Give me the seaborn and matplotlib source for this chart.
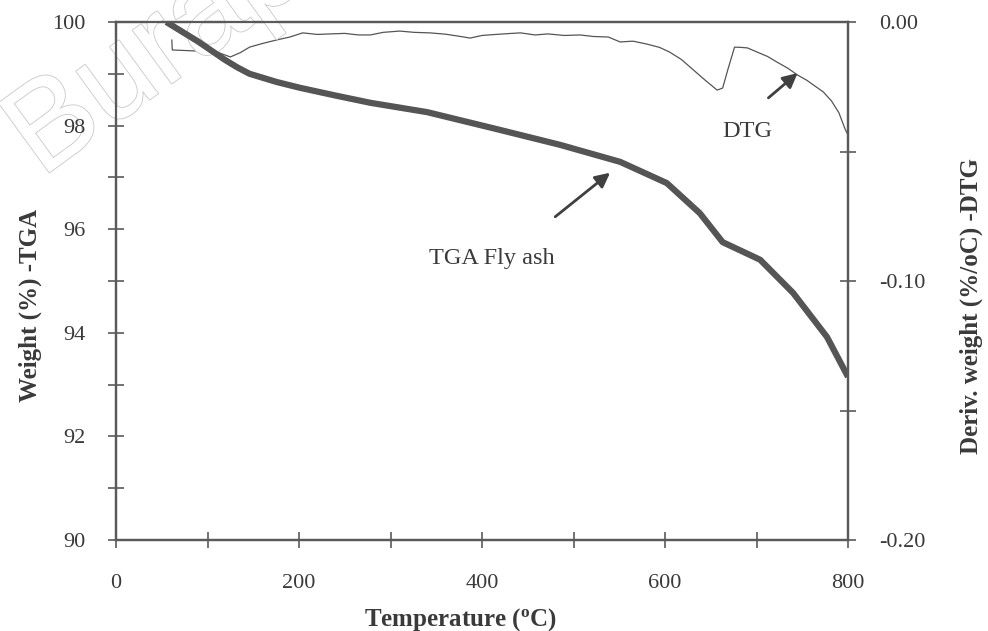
import matplotlib
matplotlib.use("Agg")
import matplotlib.pyplot as plt
import matplotlib.patheffects as pe
import seaborn as sns
import pandas as pd

# ---- data ----
tga_temp = [55, 90, 119, 132, 146, 176, 201, 240, 278, 340, 412, 485, 551, 602,
            638, 663, 704, 740, 777, 800]
tga_weight = [100.0, 99.62, 99.27, 99.13, 99.0, 98.84, 98.73, 98.58, 98.44, 98.26,
              97.95, 97.63, 97.30, 96.89, 96.31, 95.75, 95.41, 94.77, 93.92, 93.15]

dtg_temp = [61, 61.5, 75, 88, 99, 112, 125, 136, 146, 160, 176, 190, 204, 220,
            234, 250, 265, 278, 292, 310, 326, 343, 360, 375, 387, 400, 415,
            428, 442, 458, 472, 490, 507, 522, 538, 551, 565, 580, 594, 605,
            618, 631, 644, 657, 663, 669, 676, 683, 690, 700, 712, 722, 734,
            745, 755, 765, 773, 782, 790, 797, 800]
dtg_value = [-0.0069, -0.0108, -0.0110, -0.0112, -0.0116, -0.0118, -0.0135, -0.0118,
             -0.0097, -0.0083, -0.0069, -0.0058, -0.0042, -0.0048, -0.0046, -0.0044,
             -0.0050, -0.0050, -0.0040, -0.0035, -0.0040, -0.0042, -0.0047, -0.0055,
             -0.0062, -0.0052, -0.0048, -0.0045, -0.0042, -0.0050, -0.0046, -0.0052,
             -0.0050, -0.0056, -0.0058, -0.0077, -0.0074, -0.0085, -0.0098, -0.0116,
             -0.0145, -0.0185, -0.0225, -0.0263, -0.0255, -0.0180, -0.0097, -0.0098,
             -0.0100, -0.0115, -0.0133, -0.0154, -0.0178, -0.0205, -0.0225, -0.0250,
             -0.0270, -0.0305, -0.0350, -0.0415, -0.0436]

x_ticks = [0, 100, 200, 300, 400, 500, 600, 700, 800]
x_labels = ["0", "", "200", "", "400", "", "600", "", "800"]
left_ticks = [90, 91, 92, 93, 94, 95, 96, 97, 98, 99, 100]
left_labels = ["90", "", "92", "", "94", "", "96", "", "98", "", "100"]
right_ticks = [-0.20, -0.15, -0.10, -0.05, 0.00]
right_labels = ["-0.20", "", "-0.10", "", "0.00"]

tga = pd.DataFrame({"Temperature": tga_temp, "Weight": tga_weight})
dtg = pd.DataFrame({"Temperature": dtg_temp, "DTG": dtg_value})

sns.set_style("white")
plt.rcParams["font.family"] = ["Liberation Serif", "DejaVu Serif"]
plt.rcParams["mathtext.fontset"] = "custom"
plt.rcParams["mathtext.rm"] = "Liberation Serif"
plt.rcParams["mathtext.bf"] = "Liberation Serif:bold"

spine_col = "#5a5a5a"
line_col = "#555555"
text_col = "#3a3a3a"

fig = plt.figure(figsize=(9.88, 6.31), dpi=100)
ax = fig.add_axes([116 / 988, 1 - 540 / 631, (848 - 116) / 988, (540 - 22) / 631])
ax2 = ax.twinx()

sns.lineplot(data=tga, x="Temperature", y="Weight", ax=ax, color=line_col,
             linewidth=4.5, solid_capstyle="butt")
sns.lineplot(data=dtg, x="Temperature", y="DTG", ax=ax2, color=line_col,
             linewidth=0.9)

ax.set_xlim(0, 800)
ax.set_ylim(90, 100)
ax2.set_ylim(-0.20, 0.00)

ax.set_xticks(x_ticks)
ax.set_xticklabels(x_labels)
ax.set_yticks(left_ticks)
ax.set_yticklabels(left_labels)
ax2.set_yticks(right_ticks)
ax2.set_yticklabels(right_labels)

for a in (ax, ax2):
    for s in a.spines.values():
        s.set_color(spine_col)
        s.set_linewidth(1.6)
        s.set_visible(True)

ax.tick_params(axis="x", direction="inout", length=11.5, width=1.2, color=spine_col,
               labelsize=16, labelcolor=text_col, pad=19, bottom=True)
ax.tick_params(axis="y", direction="inout", length=11.5, width=1.2, color=spine_col,
               labelsize=16, labelcolor=text_col, pad=16, left=True)
ax2.tick_params(axis="y", direction="inout", length=11.5, width=1.2, color=spine_col,
                labelsize=16, labelcolor=text_col, pad=17, right=True)

ax.set_xlabel(r"Temperature ($\mathbf{^{o}}$C)", fontsize=18, fontweight="bold",
              color=text_col)
ax.set_ylabel("Weight (%) -TGA", fontsize=18, fontweight="bold", color=text_col)
ax2.set_ylabel("Deriv. weight (%/oC) -DTG", fontsize=18, fontweight="bold",
               color=text_col)
ax.xaxis.set_label_coords(0.47, -0.127)
ax.yaxis.set_label_coords(-0.101, 0.452)
ax2.yaxis.set_label_coords(1.153, 0.452)

arrow_kw = dict(arrowstyle="-|>", color="#404040", lw=2.0, mutation_scale=22,
                shrinkA=0, shrinkB=0)
ax.annotate("", xy=(540, 97.09), xytext=(480, 96.24), arrowprops=arrow_kw)
ax.annotate("TGA Fly ash", xy=(411, 95.44), ha="center", va="center", fontsize=17.5,
            color=text_col)
ax2.annotate("", xy=(745, -0.0197), xytext=(713, -0.0293), arrowprops=arrow_kw)
ax2.annotate("DTG", xy=(690, -0.0421), ha="center", va="center", fontsize=17.5,
             color=text_col)

# faint outlined watermark
fig.text(-0.012, 0.725, "Burapha", rotation=36, fontsize=90, family="Liberation Sans",
         color="white", alpha=1, zorder=0,
         path_effects=[pe.withStroke(linewidth=1.2, foreground="#c8c8c8")])

ax.set_zorder(ax2.get_zorder() + 1)
ax.patch.set_visible(False)

fig.savefig("out.png", dpi=100)
